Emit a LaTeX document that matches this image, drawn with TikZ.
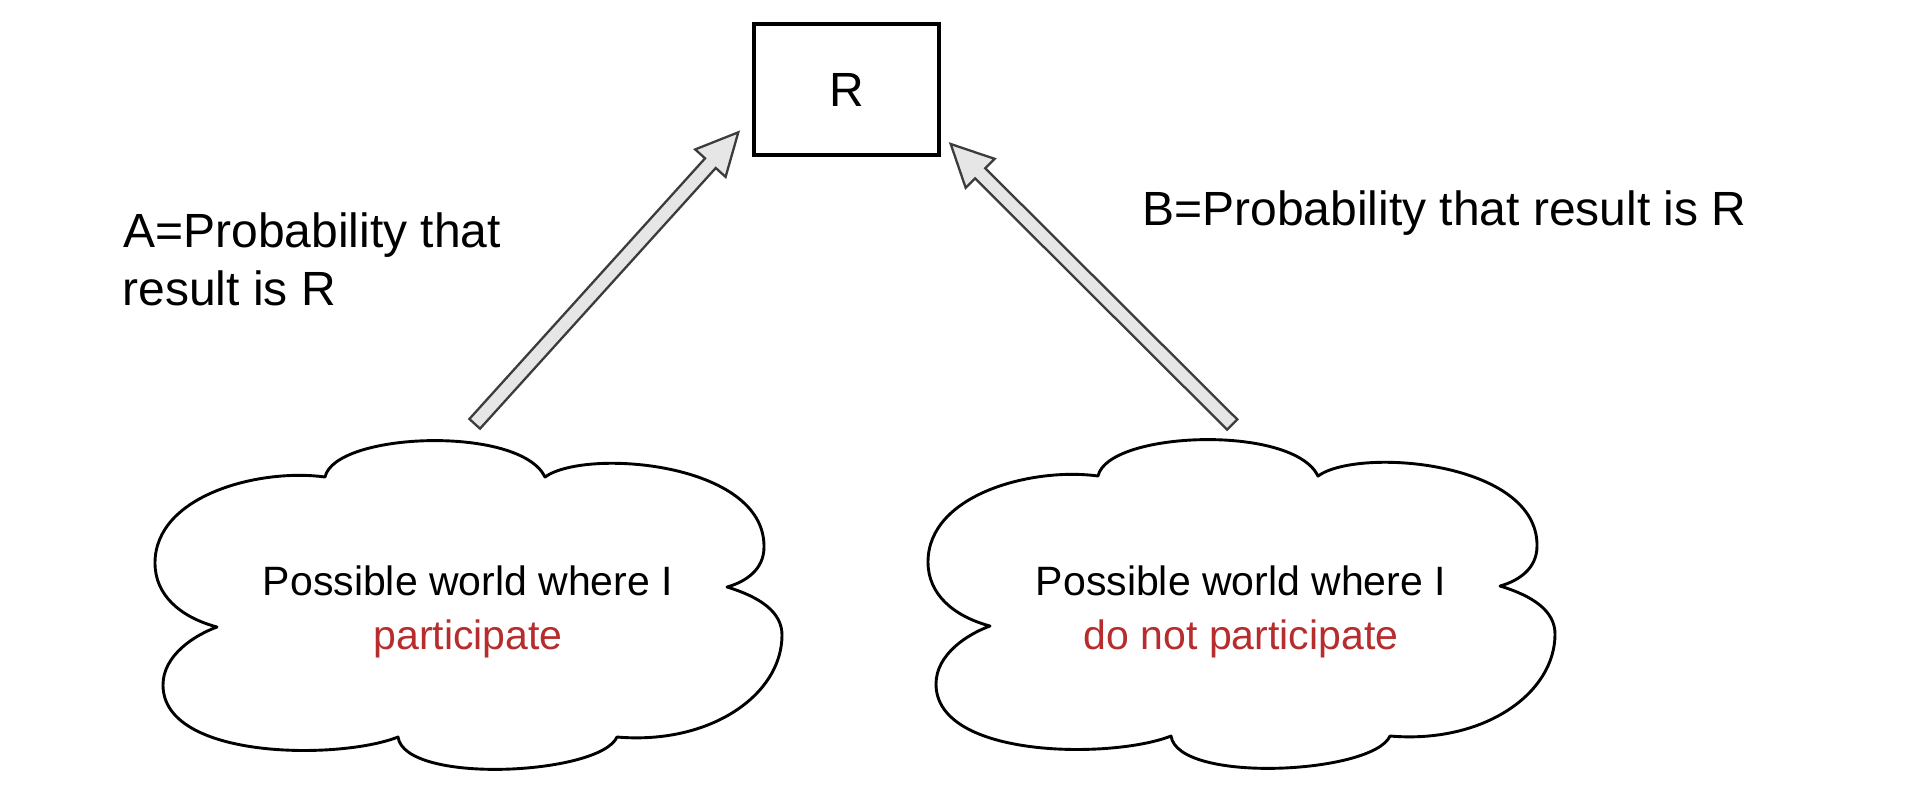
\documentclass[tikz,border=0pt]{standalone}
\usepackage{fontspec}
\setmainfont{Liberation Sans}
\usetikzlibrary{calc}
\definecolor{arrowedge}{RGB}{60,60,60}
\definecolor{arrowfill}{RGB}{230,230,230}
\definecolor{worldred}{RGB}{183,45,45}
\tikzset{
  labeltext/.style={inner sep=0pt, font=\fontsize{24}{29}\selectfont},
  cloudtext/.style={inner sep=0pt, font=\fontsize{20.5}{27}\selectfont},
  resultbox/.style={draw, line width=2pt, minimum width=92.5pt, minimum height=65.5pt, inner sep=0pt, font=\fontsize{24}{29}\selectfont},
  cloudline/.style={draw=black, line width=1.45pt, fill=white, line join=round},
  fatarrow/.style={draw=arrowedge, fill=arrowfill, line width=1.15pt, line join=miter},
}
\newcommand\drawfatarrow[2]{%
  \coordinate (#2base) at ($(#2)!20.8pt!(#1)$);
  \draw[fatarrow] ($(#1)!3.6pt!90:(#2)$) -- ($(#2base)!3.6pt!90:(#2)$) -- ($(#2base)!10.25pt!90:(#2)$) -- (#2) -- ($(#2base)!10.25pt!-90:(#2)$) -- ($(#2base)!3.6pt!-90:(#2)$) -- ($(#1)!3.6pt!-90:(#2)$) -- cycle;
}
\newcommand\drawcloud[1]{%
  \draw[cloudline,#1] (325,477) .. controls (335,432) and (520,425) .. (545,477)
   .. controls (585,448) and (765,462) .. (764,547)
   .. controls (764,570) and (745,582) .. (727,587)
   .. controls (760,597) and (782,612) .. (782,635)
   .. controls (782,695) and (710,745) .. (617,737)
   .. controls (600,775) and (405,785) .. (398,737)
   .. controls (340,760) and (163,760) .. (163,685)
   .. controls (163,655) and (195,635) .. (217,627)
   .. controls (180,617) and (155,595) .. (155,563)
   .. controls (155,495) and (260,468) .. (325,477) -- cycle;
}
\begin{document}
\begin{tikzpicture}[x=0.5pt,y=-0.5pt]
  \fill[white] (0,0) rectangle (1930,810);
  \useasboundingbox (0,0) rectangle (1930,810);

  % clouds
  \drawcloud{}
  \drawcloud{shift={(773,-1)}}
  \node[cloudtext, anchor=base] (worldA1) at (468,595) {Possible world where I};
  \node[cloudtext, anchor=base, text=worldred] (worldA2) at (468,649) {participate};
  \node[cloudtext, anchor=base] (worldB1) at (1241,595) {Possible world where I};
  \node[cloudtext, anchor=base, text=worldred] (worldB2) at (1241,649) {do not participate};

  % result box
  \node[resultbox] (R) at (846.5,89.5) {R};

  % labels
  \node[labeltext, anchor=base west] (labA1) at (123,247) {A=Probability that};
  \node[labeltext, anchor=base west] (labA2) at (122,305) {result is R};
  \node[labeltext, anchor=base west] (labB) at (1142,225) {B=Probability that result is R};

  % arrows
  \coordinate (tailA) at (474.7,423.8);
  \coordinate (tipA) at (738.3,132.3);
  \coordinate (tailB) at (1232.2,424.5);
  \coordinate (tipB) at (950.7,144);
  \drawfatarrow{tailA}{tipA}
  \drawfatarrow{tailB}{tipB}
\end{tikzpicture}
\end{document}
